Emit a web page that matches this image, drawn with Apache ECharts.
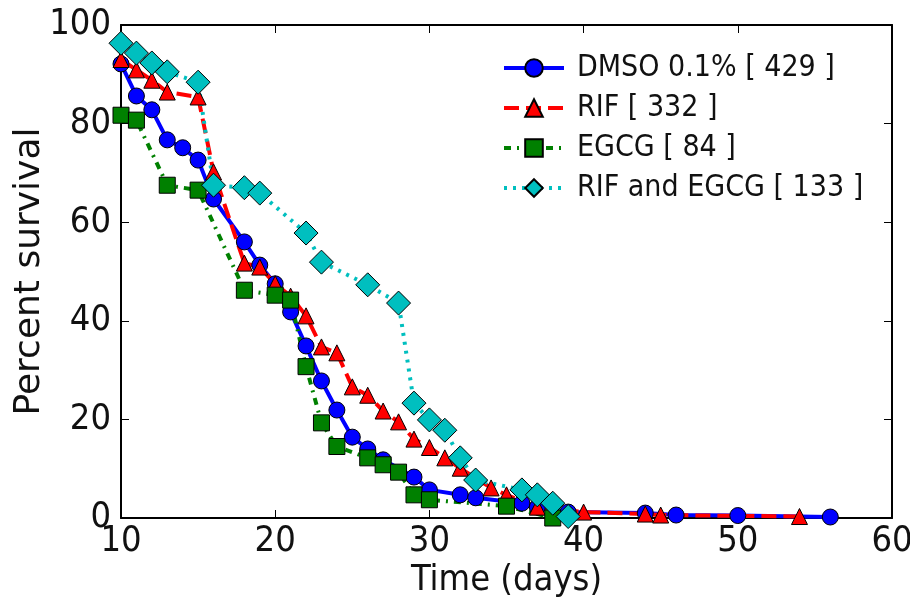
<!DOCTYPE html>
<html>
<head>
<meta charset="utf-8">
<script src="https://cdn.jsdelivr.net/npm/echarts@6/dist/echarts.min.js"></script>
<style>
html,body{margin:0;padding:0;background:#fff;}
#chart{width:910px;height:597px;}
</style>
</head>
<body>
<div id="chart"></div>
<script>
// ---- data ----
var seriesNames = ["DMSO 0.1% [ 429 ]", "RIF [ 332 ]", "EGCG [ 84 ]", "RIF and EGCG [ 133 ]"];

var dmsoDays = [10,11,12,13,14,15,16,18,19,20,21,22,23,24,25,26,27,29,30,32,33,36,37,39,44,46,50,56];
var dmsoPct  = [92.1,85.6,82.8,76.7,75.1,72.6,64.7,56.0,51.3,47.5,41.8,34.9,27.8,21.9,16.4,14.0,11.8,8.3,5.7,4.7,4.1,3.0,2.2,1.2,1.0,0.6,0.5,0.2];

var rifDays = [10,11,12,13,15,16,18,19,20,21,22,23,24,25,26,27,28,29,30,31,32,34,35,37,40,44,45,54];
var rifPct  = [93.0,90.9,88.8,86.4,85.4,70.2,51.7,50.9,47.5,45.0,41.0,34.7,33.5,26.6,24.9,21.7,19.5,16.0,14.3,12.2,10.1,6.1,4.7,2.2,1.2,0.8,0.6,0.3];

var egcgDays = [10,11,13,15,18,20,21,22,23,24,26,27,28,29,30,35,38];
var egcgPct  = [81.7,80.7,67.5,66.5,46.2,45.2,44.2,30.7,19.3,14.5,12.2,10.8,9.3,4.7,3.7,2.4,0.0];

var comboDays = [10,11,12,13,15,16,18,19,22,23,26,28,29,30,31,32,33,36,37,38,39];
var comboPct  = [96.3,94.3,92.3,90.5,88.4,67.5,67.0,65.9,57.8,51.9,47.3,43.6,23.3,19.9,17.8,12.2,7.7,5.7,4.7,3.0,0.3];

var xTicks = [10,20,30,40,50,60];
var yTicks = [0,20,40,60,80,100];

function pairs(xs, ys){ return xs.map(function(x,i){ return [x, ys[i]]; }); }

var FONT_H = '"DejaVu Sans Condensed", "DejaVu Sans"';
var FONT_V = '"DejaVu Sans"';
var chart = echarts.init(document.getElementById('chart'), null, {renderer:'canvas'});

function baseSeries(name, data, color, symbol, size, dash){
  return {
    name: name, type: 'line', data: data,
    xAxisIndex: 0, yAxisIndex: 0,
    symbol: symbol, symbolSize: size, showSymbol: true,
    clip: false,
    animation: false,
    lineStyle: {color: color, width: 4, type: dash, cap: 'butt'},
    itemStyle: {color: color, borderColor: '#000', borderWidth: 1, opacity: 1},
    emphasis: {disabled: true}
  };
}

var option = {
  animation: false,
  backgroundColor: '#fff',
  textStyle: {fontFamily: FONT_H},
  grid: {left: 121, right: 18, top: 25, bottom: 79, show: false, containLabel: false, outerBoundsMode: 'none'},
  xAxis: [{
    type: 'value', min: xTicks[0], max: xTicks[xTicks.length-1], interval: 10,
    position: 'bottom',
    name: 'Time (days)', nameLocation: 'middle', nameGap: 45, nameMoveOverlap: false,
    nameTextStyle: {fontFamily: FONT_H, fontSize: 36, color: '#111'},
    axisLine: {show: true, onZero: false, lineStyle: {color: '#000', width: 2}},
    axisTick: {show: true, inside: true, length: 8, lineStyle: {color: '#000', width: 1}},
    axisLabel: {fontFamily: FONT_H, fontSize: 36, color: '#111', margin: 6},
    splitLine: {show: false}
  },{
    type: 'value', min: xTicks[0], max: xTicks[xTicks.length-1], interval: 10,
    position: 'top',
    axisLine: {show: true, onZero: false, lineStyle: {color: '#000', width: 2}},
    axisTick: {show: true, inside: true, length: 8, lineStyle: {color: '#000', width: 1}},
    axisLabel: {show: false},
    splitLine: {show: false}
  }],
  yAxis: [{
    type: 'value', min: yTicks[0], max: yTicks[yTicks.length-1], interval: 20,
    position: 'left',
    name: 'Percent survival', nameLocation: 'middle', nameGap: 73, nameMoveOverlap: false,
    nameTextStyle: {fontFamily: FONT_V, fontSize: 36, color: '#111'},
    axisLine: {show: true, onZero: false, lineStyle: {color: '#000', width: 2}},
    axisTick: {show: true, inside: true, length: 8, lineStyle: {color: '#000', width: 1}},
    axisLabel: {fontFamily: FONT_H, fontSize: 36, color: '#111', margin: 10},
    splitLine: {show: false}
  },{
    type: 'value', min: yTicks[0], max: yTicks[yTicks.length-1], interval: 20,
    position: 'right',
    axisLine: {show: true, onZero: false, lineStyle: {color: '#000', width: 2}},
    axisTick: {show: true, inside: true, length: 8, lineStyle: {color: '#000', width: 1}},
    axisLabel: {show: false},
    splitLine: {show: false}
  }],
  legend: {
    orient: 'vertical', left: 497, top: 48,
    itemWidth: 60, itemHeight: 22, itemGap: 10,
    lineStyle: {width: 4},
    textStyle: {fontFamily: FONT_H, fontSize: 30, color: '#111', padding: [0,0,0,8]},
    data: seriesNames,
    selectedMode: false
  },
  series: [
    baseSeries(seriesNames[0], pairs(dmsoDays, dmsoPct), '#0000ff', 'circle', 16, 'solid'),
    baseSeries(seriesNames[1], pairs(rifDays, rifPct), '#ff0000', 'triangle', 16, [15,7]),
    baseSeries(seriesNames[2], pairs(egcgDays, egcgPct), '#008000', 'rect', 16, [7,6,2,6]),
    baseSeries(seriesNames[3], pairs(comboDays, comboPct), '#00bfbf', 'diamond', [24,24], [3,6])
  ]
};
chart.setOption(option);
</script>
</body>
</html>
